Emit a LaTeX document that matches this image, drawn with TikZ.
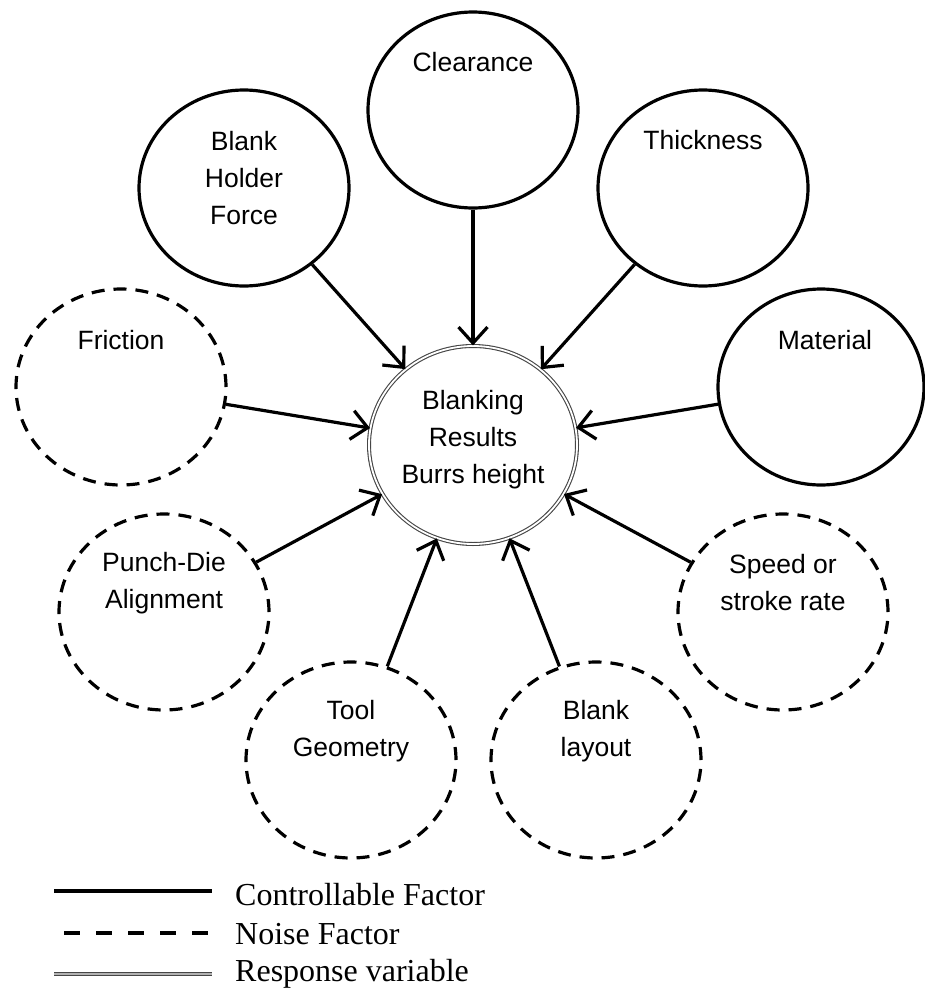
\documentclass[tikz,border=0pt]{standalone}
\usepackage{fontspec}
\setmainfont{Liberation Sans}
\newfontfamily\legfont{Liberation Serif}
\usetikzlibrary{arrows.meta,shapes.geometric}
\begin{document}
\begin{tikzpicture}[x=1pt,y=-1pt,
  ctrl/.style={ellipse,draw,line width=3.2pt,minimum width=210pt,minimum height=196pt,inner sep=0pt},
  noise/.style={ctrl,dash pattern=on 13pt off 9pt},
  resp/.style={ellipse,draw=gray!55!black,double=white,double distance=1.8pt,line width=1.1pt,minimum width=208pt,minimum height=198pt,inner sep=0pt},
  lbl/.style={font=\fontsize{26.5}{37}\selectfont,align=center,inner sep=0pt},
  leg/.style={font=\legfont\fontsize{32}{37}\selectfont,anchor=base west,inner sep=0pt},
  arr/.style={line width=3.2pt,-{Straight Barb[length=16pt,width=29pt,line width=3.2pt]}}]
\useasboundingbox (0,0) rectangle (925,988);
% circles
\node[resp]  (res) at (473,445) {};
\node[ctrl]  (clr) at (473,110) {};
\node[ctrl]  (bhf) at (244,188) {};
\node[ctrl]  (thk) at (703,188) {};
\node[noise] (fri) at (121,387) {};
\node[ctrl,minimum width=206pt] (mat) at (821,387) {};
\node[noise] (pda) at (164,612) {};
\node[noise] (spd) at (783,612) {};
\node[noise] (tlg) at (351,760) {};
\node[noise] (bll) at (596,760) {};
% labels
\node[lbl] (tres) at (473,440) {Blanking\\Results\\Burrs height};
\node[lbl] (tclr) at (473,62) {Clearance};
\node[lbl] (tbhf) at (244,178) {Blank\\Holder\\Force};
\node[lbl] (tthk) at (703,140) {Thickness};
\node[lbl] (tfri) at (121,340) {Friction};
\node[lbl] (tmat) at (825,340) {Material};
\node[lbl] (tpda) at (164,583) {Punch-Die\\Alignment};
\node[lbl] (tspd) at (783,583) {Speed or\\stroke rate};
\node[lbl] (ttlg) at (351,731) {Tool\\Geometry};
\node[lbl] (tbll) at (596,731) {Blank\\layout};
% connectors
\draw[arr] (clr) -- (res);
\draw[arr] (bhf) -- (res);
\draw[arr] (thk) -- (res);
\draw[arr] (fri) -- (res);
\draw[arr] (mat) -- (res);
\draw[arr] (pda) -- (res);
\draw[arr] (spd) -- (res);
\draw[arr] (tlg) -- (res);
\draw[arr] (bll) -- (res);
% legend
\coordinate (l1a) at (54,891);  \coordinate (l1b) at (212,891);
\coordinate (l2a) at (64,933);  \coordinate (l2b) at (212,933);
\coordinate (l3a) at (54,974);  \coordinate (l3b) at (212,974);
\draw[line width=3.8pt] (l1a) -- (l1b);
\draw[line width=3.8pt,dash pattern=on 16pt off 16pt] (l2a) -- (l2b);
\draw[draw=gray!55!black,double=gray!60,double distance=1.4pt,line width=1.2pt] (l3a) -- (l3b);
\node[leg] (g1) at (235,905) {Controllable Factor};
\node[leg] (g2) at (235,944) {Noise Factor};
\node[leg] (g3) at (235,981) {Response variable};
\end{tikzpicture}
\end{document}
